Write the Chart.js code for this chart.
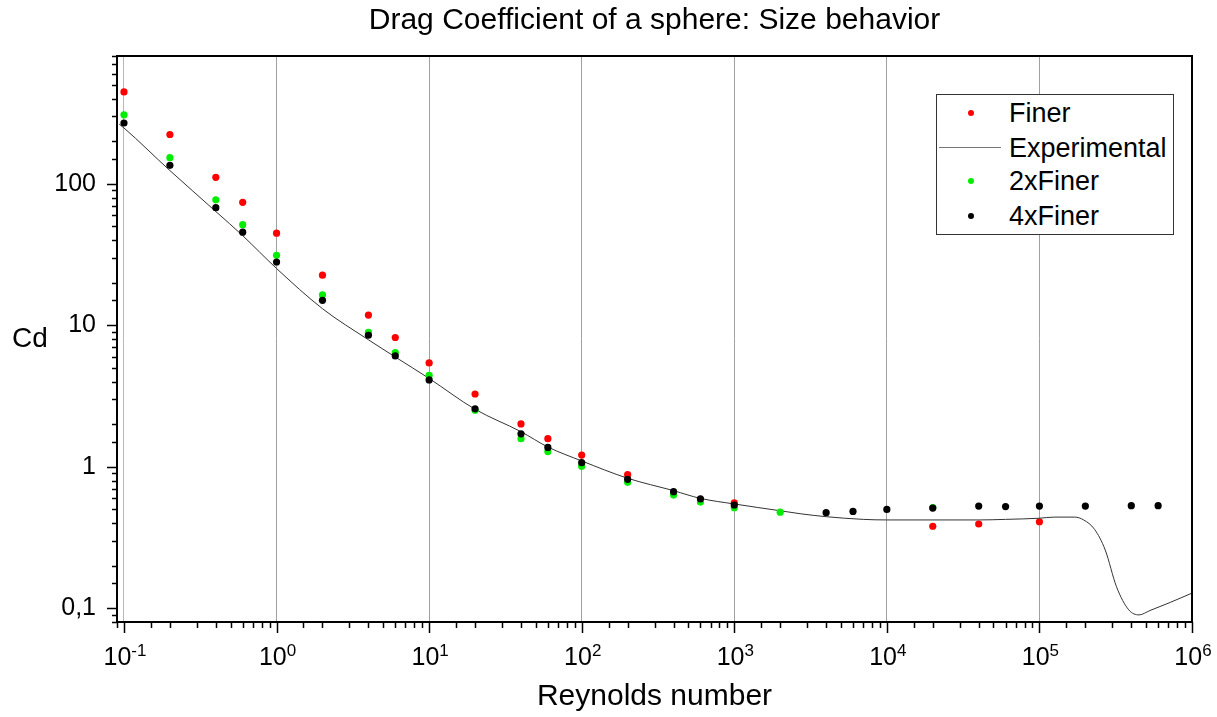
<!DOCTYPE html>
<html>
<head>
<meta charset="utf-8">
<title>Drag Coefficient of a sphere: Size behavior</title>
<script src="https://cdn.jsdelivr.net/npm/chart.js@4"></script>
<style>
  html, body { margin: 0; padding: 0; background: #fff; }
  #wrap { position: relative; width: 1217px; height: 717px; }
  #chart { position: absolute; left: 0; top: 0; }
  #legend {
    position: absolute; left: 936px; top: 94px; width: 238px; height: 141px;
    background: #fff; border: 1px solid #333; box-sizing: border-box;
    font-family: 'Liberation Sans', Arial, sans-serif; font-size: 27px; color: #000;
  }
  .item { position: absolute; left: 0; height: 30px; width: 100%; }
  .item .sym { position: absolute; left: 2px; top: 0; width: 62px; height: 30px; }
  .item .dot { position: absolute; left: 29px; top: 12px; width: 6px; height: 6px; border-radius: 50%; }
  .item .ln { position: absolute; left: 0; top: 14px; width: 62px; height: 1px; background: #777; }
  .item .txt { position: absolute; left: 72px; top: 0; line-height: 30px; white-space: nowrap; }
</style>
</head>
<body>
<div id="wrap">
  <canvas id="chart" width="1217" height="717"></canvas>
  <div id="legend"></div>
</div>
<script>
// Reynolds numbers of the simulated cases
const reynolds = [0.1, 0.2, 0.4, 0.6, 1, 2, 4, 6, 10, 20, 40, 60, 100, 200, 400, 600,
  1000, 2000, 4000, 6000, 1e4, 2e4, 4e4, 6e4, 1e5, 2e5, 4e5, 6e5];

// Drag coefficient per mesh refinement (null = case not run)
const cdFiner = [446, 223, 111, 74, 44.8, 22.6, 11.8, 8.2, 5.42, 3.27, 2.01, 1.58, 1.21, 0.88, null, null,
  0.555, null, null, null, null, 0.380, 0.394, null, 0.409, null, null, null];
const cd2xFiner = [307, 153, 77, 51.4, 31.2, 16.4, 8.9, 6.4, 4.42, 2.51, 1.58, 1.28, 1.01, 0.776, 0.631, 0.563,
  0.514, 0.478, null, null, null, 0.515, null, null, null, null, null, null];
const cd4xFiner = [269, 135, 67.8, 45.5, 28.0, 15.0, 8.5, 6.07, 4.11, 2.57, 1.71, 1.37, 1.07, 0.815, 0.667, 0.594,
  0.537, null, 0.474, 0.484, 0.500, 0.511, 0.528, 0.523, 0.528, 0.528, 0.531, 0.531];

// Experimental drag curve
const expRe = [0.093, 0.1, 0.2, 0.4, 0.6, 1, 2, 4, 6, 10, 20, 40, 60, 100, 200, 400, 600, 1000, 2000, 2700,
  4000, 7000, 1e4, 2e4, 4e4, 6e4, 1e5, 1.25e5, 1.7e5, 1.95e5, 2.3e5, 2.7e5, 3.2e5, 3.85e5, 4.5e5, 5.3e5, 7.2e5, 1e6];
const expCd = [264, 248, 124, 63.7, 43, 25.2, 13.1, 7.9, 5.97, 4.21, 2.55, 1.77, 1.38, 1.10, 0.83, 0.678, 0.598, 0.546, 0.489, 0.466,
  0.444, 0.425, 0.421, 0.421, 0.421, 0.425, 0.433, 0.441, 0.441, 0.421, 0.361, 0.258, 0.142, 0.0975, 0.0898, 0.0964, 0.110, 0.128];

// Decade tick labels: x as 10 with a raised exponent, y with a decimal comma
const xDecades = [0.1, 1, 10, 100, 1000, 1e4, 1e5, 1e6];
const xDecadeExponents = ['-1', '0', '1', '2', '3', '4', '5', '6'];
const yDecades = [0.1, 1, 10, 100];
const yDecadeLabels = ['0,1', '1', '10', '100'];

const seriesNames = ['Finer', 'Experimental', '2xFiner', '4xFiner'];
const seriesColors = ['#ff0000', '#333333', '#00ee00', '#000000'];

const FONT = "'Liberation Sans', Arial, sans-serif";
Chart.defaults.font.family = FONT;
Chart.defaults.color = '#000';

const pairs = (xs, ys) => xs.map((x, i) => ({ x, y: ys[i] })).filter(p => p.y !== null);
const isDecade = v => Math.abs(Math.log10(v) - Math.round(Math.log10(v))) < 1e-9;
const decadeLabel = (v, decades, labels) => {
  const i = decades.findIndex(d => Math.abs(Math.log10(d) - Math.log10(v)) < 1e-9);
  return i >= 0 ? labels[i] : '';
};

// Tick marks (long at decades, short elsewhere), closed frame, power-of-ten
// x labels and the horizontal "Cd" label
const frameAndTicks = {
  id: 'frameAndTicks',
  afterDraw(chart) {
    const { ctx, chartArea: a, scales: { x, y } } = chart;
    ctx.save();
    ctx.strokeStyle = '#000';
    ctx.lineWidth = 1.5;
    ctx.beginPath();
    x.ticks.forEach(t => {
      const px = Math.round(x.getPixelForValue(t.value)) + 0.5;
      const len = isDecade(t.value) ? 11 : 6;
      ctx.moveTo(px, a.bottom);
      ctx.lineTo(px, a.bottom + len);
    });
    y.ticks.forEach(t => {
      const py = Math.round(y.getPixelForValue(t.value)) + 0.5;
      const len = isDecade(t.value) ? 10 : 5;
      ctx.moveTo(a.left, py);
      ctx.lineTo(a.left - len, py);
    });
    ctx.stroke();
    ctx.lineWidth = 2;
    ctx.strokeRect(a.left, a.top, a.right - a.left, a.bottom - a.top);

    ctx.fillStyle = '#000';
    ctx.textBaseline = 'alphabetic';
    ctx.textAlign = 'left';
    const baseFont = '25px ' + FONT, supFont = '17px ' + FONT;
    xDecades.forEach((d, i) => {
      const px = x.getPixelForValue(d);
      ctx.font = baseFont;
      const wb = ctx.measureText('10').width;
      ctx.font = supFont;
      const we = ctx.measureText(xDecadeExponents[i]).width;
      const start = px - (wb + we) / 2 + 1;
      ctx.font = baseFont;
      ctx.fillText('10', start, 665);
      ctx.font = supFont;
      ctx.fillText(xDecadeExponents[i], start + wb, 656);
    });

    ctx.font = '28px ' + FONT;
    ctx.textAlign = 'center';
    ctx.textBaseline = 'middle';
    ctx.fillText('Cd', 30, (a.top + a.bottom) / 2);
    ctx.restore();
  }
};

const scatterStyle = (i) => ({
  label: seriesNames[i],
  showLine: false,
  pointRadius: 3.6,
  pointBorderWidth: 0,
  pointBackgroundColor: seriesColors[i],
  backgroundColor: seriesColors[i],
  borderColor: seriesColors[i]
});

new Chart(document.getElementById('chart'), {
  type: 'scatter',
  data: {
    datasets: [
      Object.assign(scatterStyle(0), { data: pairs(reynolds, cdFiner), order: 4 }),
      {
        label: seriesNames[1], data: pairs(expRe, expCd), order: 3,
        showLine: true, borderColor: seriesColors[1], borderWidth: 1, pointRadius: 0,
        cubicInterpolationMode: 'monotone'
      },
      Object.assign(scatterStyle(2), { data: pairs(reynolds, cd2xFiner), order: 2 }),
      Object.assign(scatterStyle(3), { data: pairs(reynolds, cd4xFiner), order: 1 })
    ]
  },
  options: {
    responsive: false,
    animation: false,
    layout: { padding: { left: 0, right: 25, top: 0, bottom: 0 } },
    plugins: {
      legend: { display: false },
      tooltip: { enabled: false },
      title: {
        display: true,
        text: 'Drag Coefficient of a sphere: Size behavior',
        fullSize: false,
        color: '#000',
        font: { size: 30, weight: 'normal', family: FONT },
        padding: { top: 3, bottom: 17 }
      }
    },
    scales: {
      x: {
        type: 'logarithmic',
        min: 0.09, max: 1e6,
        afterFit: s => { s.height = 95; s.paddingLeft = 0; s.paddingRight = 0; },
        border: { display: true, color: '#000', width: 2 },
        grid: {
          drawTicks: false,
          lineWidth: 1,
          color: ctx => (ctx.tick && isDecade(ctx.tick.value) && ctx.tick.value > 0.1 && ctx.tick.value < 1e6) ? '#a0a0a0' :
                        (ctx.tick && Math.abs(ctx.tick.value - 0.1) < 1e-12 ? '#b8b8b8' : 'rgba(0,0,0,0)')
        },
        ticks: { display: false, autoSkip: false, maxRotation: 0, minRotation: 0 },
        title: {
          display: true, text: 'Reynolds number', color: '#000',
          font: { size: 30 }, padding: { top: 0, bottom: 2 }
        }
      },
      y: {
        type: 'logarithmic',
        min: 0.08, max: 800,
        afterFit: s => { s.width = 117; },
        border: { display: true, color: '#000', width: 2 },
        grid: { drawTicks: false, drawOnChartArea: false },
        ticks: {
          autoSkip: false, padding: 21,
          color: '#000', font: { size: 25 },
          callback: v => decadeLabel(v, yDecades, yDecadeLabels)
        }
      }
    }
  },
  plugins: [frameAndTicks]
});

// Legend box
const legend = document.getElementById('legend');
const rowTops = [3, 38, 71, 106];
seriesNames.forEach((name, i) => {
  const item = document.createElement('div');
  item.className = 'item';
  item.style.top = rowTops[i] + 'px';
  const sym = document.createElement('div');
  sym.className = 'sym';
  const mark = document.createElement('div');
  if (i === 1) { mark.className = 'ln'; }
  else { mark.className = 'dot'; mark.style.background = seriesColors[i]; }
  sym.appendChild(mark);
  const txt = document.createElement('div');
  txt.className = 'txt';
  txt.textContent = name;
  item.appendChild(sym);
  item.appendChild(txt);
  legend.appendChild(item);
});
</script>
</body>
</html>
